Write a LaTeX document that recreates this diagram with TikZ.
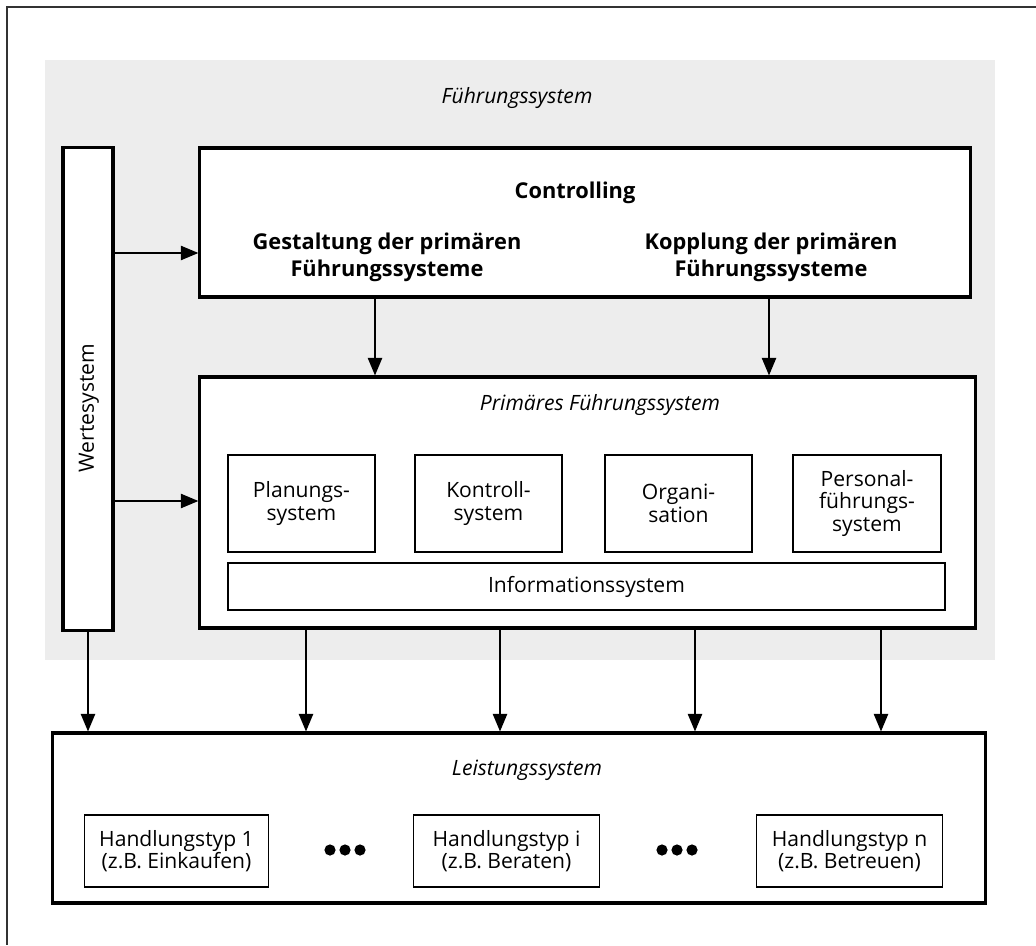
\documentclass[tikz,border=0pt]{standalone}
\usepackage{fontspec}
\setmainfont{Open Sans}
\usetikzlibrary{arrows.meta}

\begin{document}
\begin{tikzpicture}[x=0.025cm,y=-0.025cm,line join=miter,
    >={Triangle[length=0.44cm,width=0.36cm]},
    every node/.style={font=\fontsize{15}{16}\selectfont,align=center},
    heavybox/.style={draw,line width=2.2pt,fill=white,inner sep=0pt},
    lightbox/.style={draw,line width=1pt,fill=white,inner sep=0pt},
    boldtxt/.style={font=\fontsize{15.5}{19}\selectfont\bfseries},
    itaTxt/.style={font=\fontsize{15}{16}\selectfont\itshape},
    flow/.style={->,line width=1pt}]
        \useasboundingbox (0,0) rectangle (1036,945);
        % frame and stippled background
        \draw[line width=1.4pt,black!80] (1036,7) -- (7,7) -- (7,945);
        \fill[black!7] (45,60) rectangle (995,660);
        \node[itaTxt] (fstxt) at (517,98) {Führungssystem};
        % Wertesystem
        \node[heavybox,minimum width=1.25cm,minimum height=12.05cm] (werte) at (88,389) {};
        \node[rotate=90] (wertetxt) at (89,408) {Wertesystem};
        % Controlling
        \node[heavybox,minimum width=19.25cm,minimum height=3.725cm] (ctrl) at (585,222.5) {};
        \node[boldtxt] (ctrltxt) at (575,193) {Controlling};
        \node[boldtxt] (gestalt) at (387,257) {Gestaltung der primären\\Führungssysteme};
        \node[boldtxt] (kopp) at (771,257) {Kopplung der primären\\Führungssysteme};
        % Primaeres Fuehrungssystem
        \node[heavybox,minimum width=19.375cm,minimum height=6.275cm] (prim) at (587.5,502.5) {};
        \node[itaTxt] (primtxt) at (600,405) {Primäres Führungssystem};
        \node[lightbox,minimum width=3.675cm,minimum height=2.425cm] (plan) at (301.5,503.5) {Planungs-\\system};
        \node[lightbox,minimum width=3.675cm,minimum height=2.425cm] (kontr) at (488.5,503.5) {Kontroll-\\system};
        \node[lightbox,minimum width=3.675cm,minimum height=2.425cm] (orga) at (678.5,503.5) {Organi-\\sation};
        \node[lightbox,minimum width=3.7cm,minimum height=2.425cm] (pers) at (867,503.5) {Personal-\\führungs-\\system};
        \node[lightbox,minimum width=17.925cm,minimum height=1.175cm] (info) at (586.5,586.5) {Informationssystem};
        % Leistungssystem
        \node[heavybox,minimum width=23.3cm,minimum height=4.25cm] (leist) at (519,818) {};
        \node[itaTxt] (leisttxt) at (527,770) {Leistungssystem};
        \node[lightbox,minimum width=4.6cm,minimum height=1.8cm] (hand1) at (176.5,851) {Handlungstyp 1\\(z.B. Einkaufen)};
        \node[lightbox,minimum width=4.65cm,minimum height=1.8cm] (handi) at (506.5,851) {Handlungstyp i\\(z.B. Beraten)};
        \node[lightbox,minimum width=4.65cm,minimum height=1.8cm] (handn) at (849.5,851) {Handlungstyp n\\(z.B. Betreuen)};
        \foreach \x in {345,677}
            \foreach \d in {-15,0,15}
                \fill (\x+\d,850) circle (0.14cm);
        % arrows
        \coordinate (ya) at (0,253);
        \coordinate (yb) at (0,501);
        \coordinate (xa) at (375,0);
        \coordinate (xb) at (769,0);
        \draw[flow] (werte.east |- ya) -- (ctrl.west |- ya);
        \draw[flow] (werte.east |- yb) -- (prim.west |- yb);
        \draw[flow] (ctrl.south -| xa) -- (prim.north -| xa);
        \draw[flow] (ctrl.south -| xb) -- (prim.north -| xb);
        \draw[flow] (werte.south) -- (werte.south |- leist.north);
        \foreach \x [count=\i] in {306,500,695,881}{
            \coordinate (xd\i) at (\x,0);
            \draw[flow] (prim.south -| xd\i) -- (leist.north -| xd\i);
        }
\end{tikzpicture}
\end{document}
